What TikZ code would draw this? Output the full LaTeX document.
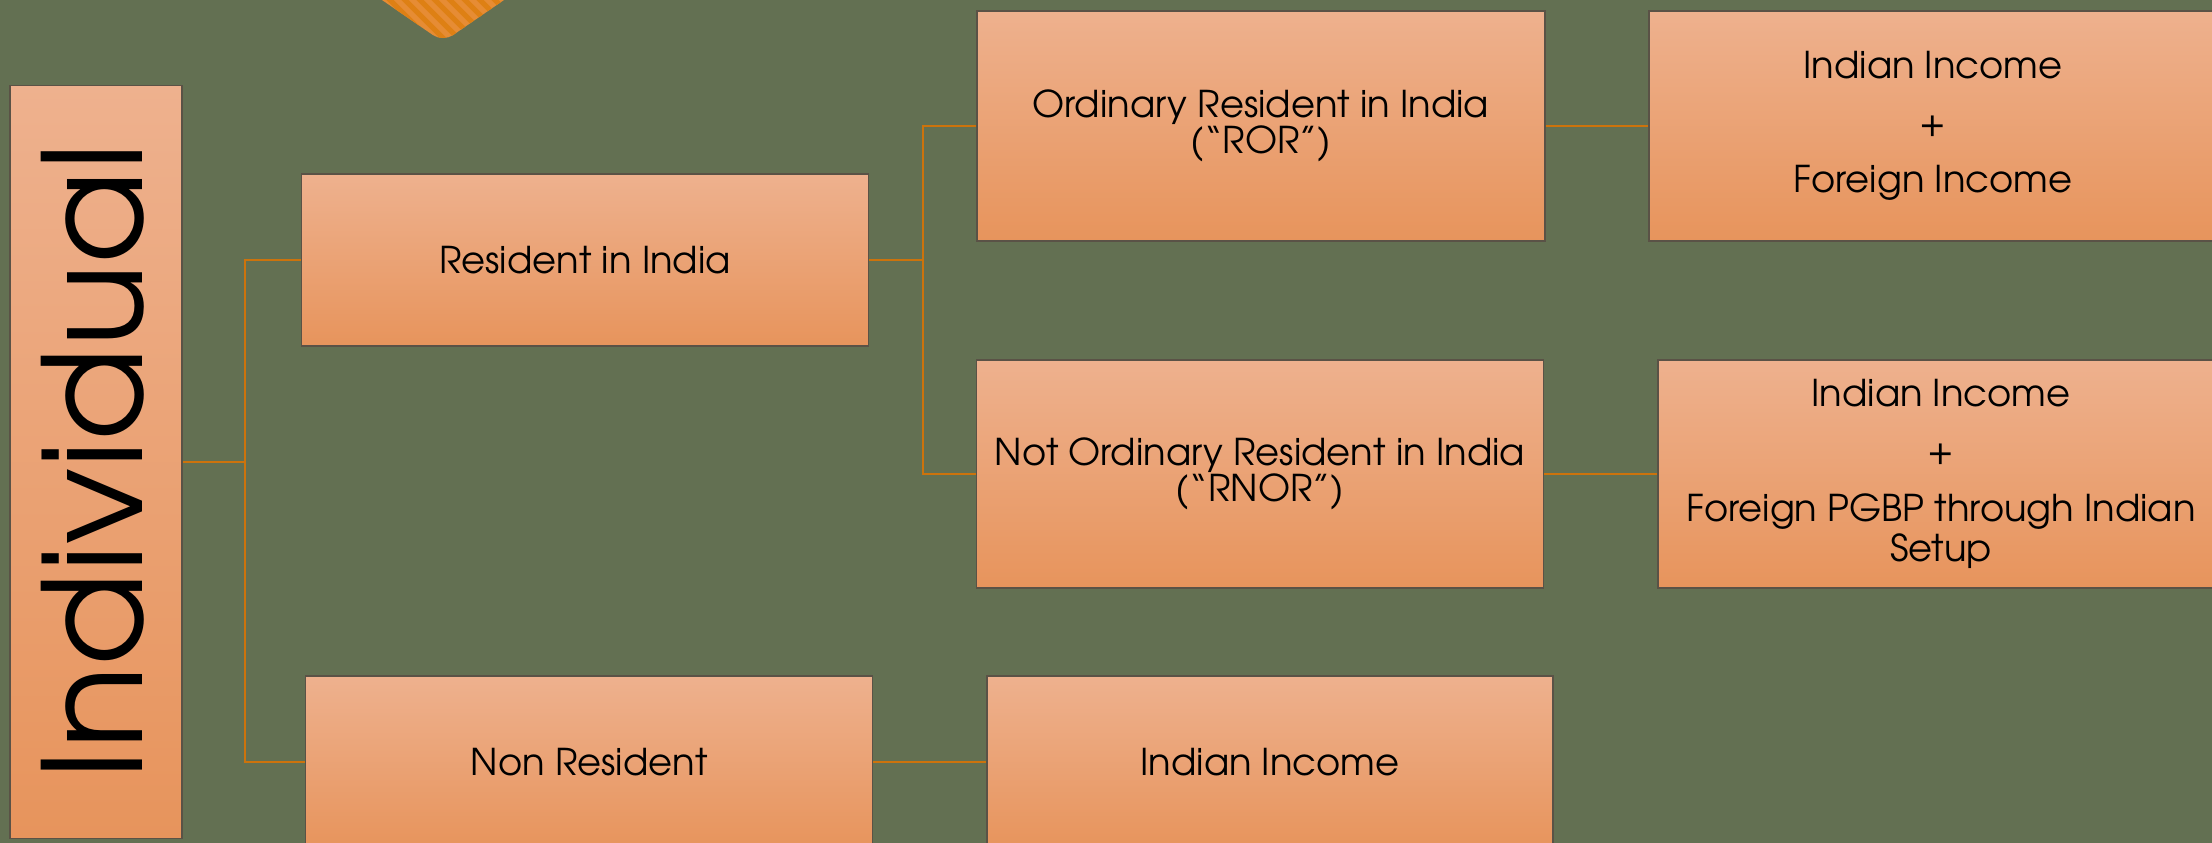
\documentclass[tikz,border=0pt]{standalone}
\usepackage{fontspec}
\setmainfont{texgyreadventor-regular.otf}
\usepackage{xcolor}
\usepackage{tikz}

\definecolor{bgolive}{RGB}{99,112,82}
\definecolor{bxtop}{RGB}{238,177,142}
\definecolor{bxbot}{RGB}{231,148,92}
\definecolor{bxline}{RGB}{90,82,70}
\definecolor{lnkorange}{RGB}{204,115,12}
\definecolor{tabA}{RGB}{230,140,52}
\definecolor{tabB}{RGB}{222,128,20}

\tikzset{
	bx/.style={draw=bxline, line width=0.4pt, top color=bxtop, bottom color=bxbot,
		inner sep=0pt, align=center, font=\fontsize{10.5}{11.6}\selectfont},
	tight/.style={font={\fontsize{10.5}{10.4}\selectfont\lineskiplimit=-20pt\relax}},
	lnk/.style={draw=lnkorange, line width=0.75pt}
}

\begin{document}
\begin{tikzpicture}[x=0.01cm,y=-0.01cm]
	\useasboundingbox (0,0) rectangle (2212,843);
	\clip (0,0) rectangle (2212,843);
	\fill[bgolive] (0,0) rectangle (2212,843);
	% striped tab at the top
	\begin{scope}
		\clip[rounded corners=0.12cm] (321,-42) -- (443,42) -- (565,-42) -- cycle;
		\fill[tabA] (300,-50) rectangle (600,50);
		\foreach \i in {0,1,...,24}
			\def\x{\the\numexpr\i*15+240}
			\draw[tabB, line width=1.5pt] (\x,-60) -- ++(120,120);
	\end{scope}
	% boxes
	\node[bx, minimum width=1.72cm, minimum height=7.53cm] (ind) at (96,462) {};
	\node[rotate=90, inner sep=0pt, font=\fontsize{39}{40}\selectfont] (indtxt) at (93,462) {Individual};
	\node[bx, minimum width=5.67cm, minimum height=1.72cm] (res) at (585,260) {Resident in India};
	\node[bx, minimum width=5.67cm, minimum height=1.72cm] (nr) at (589,762) {Non Resident};
	\node[bx, tight, minimum width=5.68cm, minimum height=2.30cm] (ror) at (1261,126) {Ordinary Resident in India\\(“ROR”)};
	\node[bx, tight, minimum width=5.67cm, minimum height=2.28cm] (rnor) at (1260,474) {Not Ordinary Resident in India\\(“RNOR”)};
	\node[bx, minimum width=5.66cm, minimum height=1.72cm] (nrinc) at (1270,762) {Indian Income};
	\node[bx, minimum width=5.68cm, minimum height=2.30cm] (rorinc) at (1933,126) {Indian Income\\[4.7pt]+\\[4.7pt]Foreign Income};
	\node[bx, minimum width=5.66cm, minimum height=2.28cm] (rnorinc) at (1941,474) {Indian Income\\[4.7pt]+\\[4.7pt]Foreign PGBP through Indian\\Setup};
	% connectors
	\coordinate (s1) at (245,0);
	\coordinate (s2) at (923,0);
	\draw[lnk] (ind.east) -- (ind.east -| s1) |- (res.west);
	\draw[lnk] (ind.east -| s1) |- (nr.west);
	\draw[lnk] (res.east) -- (res.east -| s2) |- (ror.west);
	\draw[lnk] (res.east -| s2) |- (rnor.west);
	\draw[lnk] (ror.east) -- (rorinc.west);
	\draw[lnk] (rnor.east) -- (rnorinc.west);
	\draw[lnk] (nr.east) -- (nrinc.west);
\end{tikzpicture}
\end{document}
